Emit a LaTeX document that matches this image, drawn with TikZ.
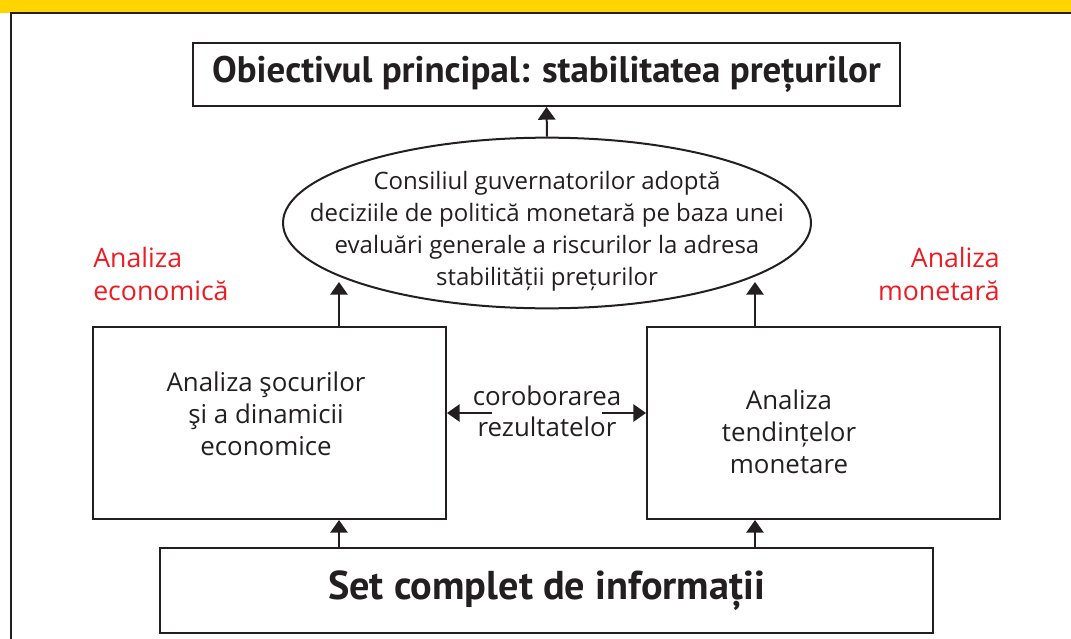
\documentclass[tikz,border=0pt]{standalone}
\usepackage{fontspec}
\setmainfont{Open Sans}
\newfontfamily\headfont{PT Sans}
\usetikzlibrary{arrows.meta}
\usetikzlibrary{shapes.geometric}
\definecolor{bandyellow}{RGB}{255,212,0}
\definecolor{labelred}{RGB}{237,28,36}
\definecolor{inkgray}{RGB}{35,31,32}

\begin{document}
\begin{tikzpicture}[x=0.75pt,y=-0.75pt,
  box/.style={draw=inkgray,line width=1.5pt,inner sep=0pt},
  arr/.style={-{Triangle[width=13pt,length=9.5pt]},line width=1.5pt,draw=inkgray,fill=inkgray},
  txt/.style={font=\fontsize{19.4}{24}\selectfont,text=inkgray,align=center},
  redtxt/.style={font=\fontsize{20}{24.75}\selectfont,text=labelred,inner sep=0pt}]
\useasboundingbox (0,0) rectangle (1071,639);
% frame
\fill[bandyellow] (0,0) rectangle (1071,13);
\draw[inkgray,line width=1.5pt] (1071,13) -- (11,13) -- (11,639);

% boxes
\node[box,minimum width=530.25pt,minimum height=47.25pt,font=\headfont\fontsize{27.7}{32}\selectfont\bfseries,text=inkgray] (goal) at (546.5,74.5) {Obiectivul principal: stabilitatea prețurilor};
\node[box,ellipse,minimum width=396pt,minimum height=128pt] (council) at (547,223) {};
\node[box,minimum width=264.75pt,minimum height=144pt] (econ) at (269.5,423) {};
\node[box,minimum width=264.75pt,minimum height=144pt] (monet) at (823.5,423) {};
\node[box,minimum width=579.75pt,minimum height=63.75pt,font=\headfont\fontsize{30.2}{35}\selectfont\bfseries,text=inkgray] (info) at (546.5,590.5) {Set complet de informații};

% texts
\node[txt,font=\fontsize{18}{24}\selectfont] (counciltxt) at (547,231) {Consiliul guvernatorilor adoptă\\deciziile de politică monetară pe baza unei\\evaluări generale a riscurilor la adresa\\stabilității prețurilor};
\node[txt] (econtxt) at (266,414) {Analiza şocurilor\\şi a dinamicii\\economice};
\node[txt] (monettxt) at (789,432) {Analiza\\tendințelor\\monetare};
\node[txt,font=\fontsize{19.4}{23.25}\selectfont] (corob) at (547,411) {coroborarea\\rezultatelor};
\node[redtxt,align=left,anchor=north west] (econlbl) at (93,247) {Analiza\\economică};
\node[redtxt,align=right,anchor=north east] (monetlbl) at (1000,247) {Analiza\\monetară};

% arrows
\coordinate (ea) at (339,282);
\coordinate (eb) at (755,282);
\coordinate (cl) at (492,413);
\coordinate (cr) at (602,413);
\draw[arr] (council.north) -- (goal.south);
\draw[arr] (econ.north -| ea) -- (ea);
\draw[arr] (monet.north -| eb) -- (eb);
\draw[arr] (info.north -| ea) -- (econ.south -| ea);
\draw[arr] (info.north -| eb) -- (monet.south -| eb);
\draw[arr] (cl) -- (cl -| econ.east);
\draw[arr] (cr) -- (cr -| monet.west);
\end{tikzpicture}
\end{document}
